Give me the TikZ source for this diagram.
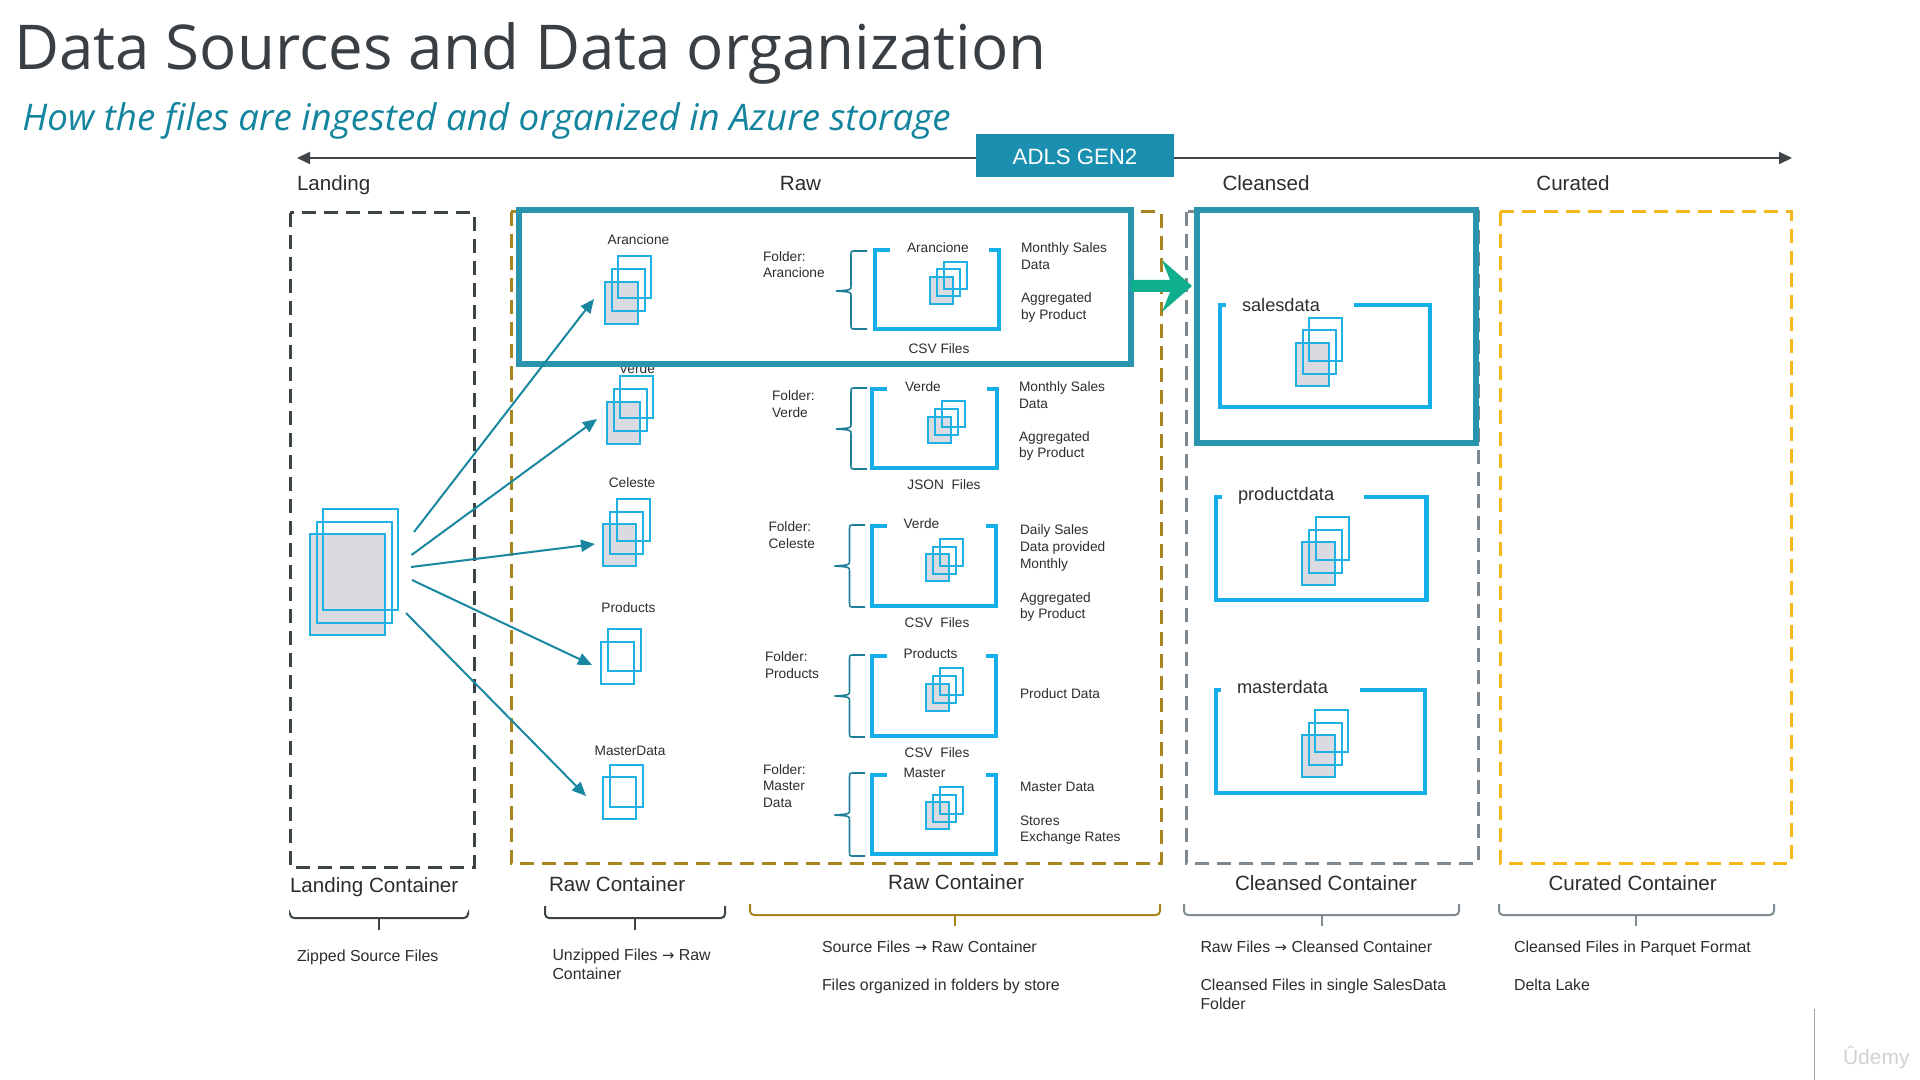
\documentclass[tikz,border=0pt]{standalone}
\usepackage{fontspec}
\setmainfont{Liberation Sans}
\newfontfamily\titlefont{Open Sans}
\newfontfamily\arrfont{DejaVu Sans}
\newcommand{\rarr}{{\arrfont\fontsize{7.4}{9}\selectfont →}}
\usetikzlibrary{arrows.meta}
\definecolor{txt}{HTML}{2B2E31}
\definecolor{titlec}{HTML}{3A3F44}
\definecolor{subc}{HTML}{12849E}
\definecolor{axisc}{HTML}{404548}
\definecolor{adls}{HTML}{1B8FB0}
\definecolor{landc}{HTML}{3C4448}
\definecolor{rawc}{HTML}{A8841E}
\definecolor{clc}{HTML}{7F878F}
\definecolor{curc}{HTML}{F4B81C}
\definecolor{hl}{HTML}{2A93AD}
\definecolor{grn}{HTML}{0FAE8C}
\definecolor{fblue}{HTML}{14AEE8}
\definecolor{sblue}{HTML}{1FB0E6}
\definecolor{sfill}{HTML}{DADBE0}
\definecolor{arrc}{HTML}{1A87A0}
\definecolor{brc}{HTML}{1F7F99}
\definecolor{capg}{HTML}{7F8C92}
\tikzset{
  base/.style={inner sep=0pt,outer sep=0pt,text height=.72em,text depth=0pt,anchor=west,text=txt},
  tiny/.style={base,yshift=1pt,font=\fontsize{6.85}{8}\selectfont},
  smalltxt/.style={base,yshift=.6pt,font=\fontsize{7.95}{9}\selectfont},
  foldertitle/.style={base,yshift=1pt,font=\fontsize{9.1}{11}\selectfont},
  headtxt/.style={base,font=\fontsize{10.3}{12}\selectfont},
  dbox/.style={line width=1.5pt,dash pattern=on 7pt off 4pt},
  hlbox/.style={draw=hl,line width=2.7pt,fill=white},
  flow/.style={draw=arrc,line width=1pt,-{Triangle[length=7pt,width=6pt]}},
  axis/.style={draw=axisc,line width=.9pt,{Triangle[length=6.5pt,width=6pt]}-{Triangle[length=6.5pt,width=6pt]}},
  sline/.style={draw=sblue,line width=1pt},
  fline/.style={draw=fblue,line width=2.2pt},
  fbr/.style={draw=brc,line width=.8pt},
}
\newcommand{\stackicon}[6]{% x y w h dx dy
  \fill[sfill] (#1,#2) rectangle ++(#3,#4);
  \draw[sline] (#1,#2) rectangle ++(#3,#4);
  \draw[sline] ({#1+#5},{#2+#6}) rectangle ++(#3,#4);
  \draw[sline] ({#1+2*#5},{#2+2*#6}) rectangle ++(#3,#4);
}
\newcommand{\folderbox}[6]{% x1 x2 ytop ybot stubL stubR
  \draw[fline,line join=miter] (#5,#3) -- (#1,#3) -- (#1,#4) -- (#2,#4) -- (#2,#3) -- (#6,#3);
}
\newcommand{\foldbrace}[6]{% xend xspine xtip ytop ybot ymid
  \draw[fbr] (#1,#4) -- ({#2+4},#4) .. controls (#2,#4) .. (#2,{#4+5}) -- (#2,{#6-5})
    .. controls (#2,{#6-1}) .. (#3,#6) .. controls (#2,{#6+1}) .. (#2,{#6+5})
    -- (#2,{#5-5}) .. controls (#2,#5) .. ({#2+4},#5) -- (#1,#5);
}
\newcommand{\capbrace}[7]{% colour x1 x2 top bar stemx stemend
  \draw[#1,line width=1pt,rounded corners=2pt] (#2,#4) -- (#2,#5) -- (#3,#5) -- (#3,#4);
  \draw[#1,line width=1pt] (#6,#5) -- (#6,#7);
}
\begin{document}
\begin{tikzpicture}[x=0.5pt,y=-0.5pt]
\useasboundingbox (0,0) rectangle (1920,1080);
\fill[white] (0,0) rectangle (1920,1080);
% title
\node[inner sep=0pt,anchor=base west,text=titlec,font=\titlefont\fontsize{30.9}{36}\selectfont] (title) at (14,69.5) {Data Sources and Data organization};
\node[inner sep=0pt,anchor=base west,text=subc,font=\titlefont\itshape\fontsize{18.35}{22}\selectfont] (subtitle) at (22,130.5) {How the files are ingested and organized in Azure storage};
% axis
\coordinate (axL) at (297,158);
\coordinate (axR) at (1792,158);
\draw[axis] (axL) -- (axR);
\fill[adls] (976,134) rectangle (1174,177);
\node[inner sep=0pt,text=white,font=\fontsize{11.1}{14}\selectfont] (adlslabel) at (1075,157) {ADLS GEN2};
% zone titles
\node[headtxt] (zl) at (297,183) {Landing};
\node[headtxt,anchor=center] (zr) at (800.5,183) {Raw};
\node[headtxt,anchor=center] (zc) at (1266,183) {Cleansed};
\node[headtxt,anchor=center] (zu) at (1573,183) {Curated};
% dashed containers
\draw[dbox,draw=landc] (290,213) rectangle (474,867);
\draw[dbox,draw=rawc] (511,212) rectangle (1161,863);
\draw[dbox,draw=clc] (1186,212) rectangle (1478,863);
\draw[dbox,draw=curc] (1500,212) rectangle (1791,863);
% partly hidden label
\node[tiny,anchor=center] (lverde) at (637,368) {Verde};
% highlight boxes
\draw[hlbox] (519,210) rectangle (1131,364);
\draw[hlbox] (1197,210) rectangle (1476,443);
% green arrow
\fill[grn] (1131,280) -- (1170,280) -- (1162,260) -- (1192,286) -- (1162,312) -- (1170,292) -- (1131,292) -- cycle;
% landing stack
\stackicon{310}{534}{75}{101}{6.5}{-12.5}
% raw stacks
\stackicon{605}{282}{33}{42}{6.5}{-13}
\stackicon{607}{402}{33}{42}{6.5}{-13}
\stackicon{603}{524}{33}{42}{7}{-12.5}
\draw[sline] (601,642) rectangle ++(33,42);
\draw[sline] (608,629) rectangle ++(33,42);
\draw[sline] (603,777) rectangle ++(33,42);
\draw[sline] (610,765) rectangle ++(33,42);
% folder boxes and stacks
\folderbox{875}{999}{250}{329}{890}{989}
\stackicon{930}{277}{23}{27}{7}{-7.5}
\foldbrace{867}{851}{836}{251}{329}{291}
\folderbox{872}{997}{389}{468}{887}{987}
\stackicon{927.5}{417}{23}{26}{7}{-8}
\foldbrace{867}{851}{836}{388}{469}{429}
\folderbox{872}{996}{526}{606}{887}{986}
\stackicon{926}{554}{23}{27}{7}{-7.5}
\foldbrace{865}{849.5}{834.5}{525}{607}{566}
\folderbox{872}{996}{656}{736}{887}{986}
\stackicon{926}{684}{23}{27}{7}{-8}
\foldbrace{865}{849.5}{834.5}{655}{737}{696}
\folderbox{872}{996}{775}{854}{887}{986}
\stackicon{926}{802}{23}{27}{7}{-7.5}
\foldbrace{865}{849.5}{834.5}{773}{856}{815}
% cleansed folders
\folderbox{1220}{1430}{305}{407}{1226}{1354}
\stackicon{1296}{343}{33}{43}{6.5}{-12.5}
\folderbox{1216}{1426.5}{497}{600}{1222}{1364}
\stackicon{1302}{542}{33}{43}{7}{-12.5}
\folderbox{1216}{1425}{690}{793}{1221}{1360}
\stackicon{1302}{735}{33}{42}{6.5}{-12.5}
% flows
\coordinate (a1s) at (414,532); \coordinate (a1e) at (594,299);
\coordinate (a2s) at (411.5,555); \coordinate (a2e) at (597,419);
\coordinate (a3s) at (411,567); \coordinate (a3e) at (595,544);
\coordinate (a4s) at (412,580); \coordinate (a4e) at (592,665);
\coordinate (a5s) at (406,613); \coordinate (a5e) at (586,796);
\draw[flow] (a1s) -- (a1e);
\draw[flow] (a2s) -- (a2e);
\draw[flow] (a3s) -- (a3e);
\draw[flow] (a4s) -- (a4e);
\draw[flow] (a5s) -- (a5e);
% raw labels, first column
\node[tiny,anchor=center] (l1) at (638.5,239) {Arancione};
\node[tiny,anchor=center] (l3) at (632,482) {Celeste};
\node[tiny,anchor=center] (l4) at (628.5,607) {Products};
\node[tiny,anchor=center] (l5) at (630,750) {MasterData};
% folder labels
\node[tiny] (f1a) at (763,256) {Folder:};
\node[tiny] (f1b) at (763,272) {Arancione};
\node[tiny] (f2a) at (772,395) {Folder:};
\node[tiny] (f2b) at (772,412) {Verde};
\node[tiny] (f3a) at (768.5,526) {Folder:};
\node[tiny] (f3b) at (768.5,543) {Celeste};
\node[tiny] (f4a) at (765,656) {Folder:};
\node[tiny] (f4b) at (765,673) {Products};
\node[tiny] (f5a) at (763,769) {Folder:};
\node[tiny] (f5b) at (763,785) {Master};
\node[tiny] (f5c) at (763,802) {Data};
% titles in folder boxes
\node[tiny] (b1) at (907,247) {Arancione};
\node[tiny] (b2) at (905,386) {Verde};
\node[tiny] (b3) at (903.5,523) {Verde};
\node[tiny] (b4) at (903.5,653) {Products};
\node[tiny] (b5) at (903.5,772) {Master};
% file types
\node[tiny,anchor=center] (t1) at (939,348) {CSV Files};
\node[tiny,anchor=center] (t2) at (944,484) {JSON\ \ Files};
\node[tiny,anchor=center] (t3) at (937,622) {CSV\ \ Files};
\node[tiny,anchor=center] (t4) at (937,752) {CSV\ \ Files};
% descriptions
\node[tiny] (d1a) at (1021,247) {Monthly Sales};
\node[tiny] (d1b) at (1021,264) {Data};
\node[tiny] (d1c) at (1021,297) {Aggregated};
\node[tiny] (d1d) at (1021,314) {by Product};
\node[tiny] (d2a) at (1019,386) {Monthly Sales};
\node[tiny] (d2b) at (1019,403) {Data};
\node[tiny] (d2c) at (1019,436) {Aggregated};
\node[tiny] (d2d) at (1019,452) {by Product};
\node[tiny] (d3a) at (1020,529) {Daily Sales};
\node[tiny] (d3b) at (1020,546) {Data provided};
\node[tiny] (d3c) at (1020,563) {Monthly};
\node[tiny] (d3d) at (1020,597) {Aggregated};
\node[tiny] (d3e) at (1020,613) {by Product};
\node[tiny] (d4a) at (1020,693) {Product Data};
\node[tiny] (d5a) at (1020,786) {Master Data};
\node[tiny] (d5b) at (1020,820) {Stores};
\node[tiny] (d5c) at (1020,836) {Exchange Rates};
% cleansed folder titles
\node[foldertitle] (c1) at (1242,306) {salesdata};
\node[foldertitle] (c2) at (1238,495) {productdata};
\node[foldertitle] (c3) at (1237,688) {masterdata};
% container titles
\node[headtxt] (k1) at (290,885) {Landing Container};
\node[headtxt] (k2) at (549,884) {Raw Container};
\node[headtxt] (k3) at (888,882) {Raw Container};
\node[headtxt] (k4) at (1235,883) {Cleansed Container};
\node[headtxt] (k5) at (1548.5,883) {Curated Container};
% bottom braces
\capbrace{landc}{290}{468}{915}{918}{378.5}{930}
\capbrace{landc}{545}{725}{906}{918}{634.5}{930}
\capbrace{rawc}{750}{1160}{904}{915}{955}{926}
\capbrace{capg}{1184}{1459}{904}{915}{1322}{926}
\capbrace{capg}{1499}{1774}{904}{915}{1636}{926}
% bottom notes
\node[smalltxt] (n1) at (297,955) {Zipped Source Files};
\node[smalltxt] (n2a) at (552.5,954) {Unzipped Files \rarr{} Raw};
\node[smalltxt] (n2b) at (552.5,973) {Container};
\node[smalltxt] (n3a) at (822,946) {Source Files \rarr{} Raw Container};
\node[smalltxt] (n3b) at (822,984) {Files organized in folders by store};
\node[smalltxt] (n4a) at (1200.5,946) {Raw Files \rarr{} Cleansed Container};
\node[smalltxt] (n4b) at (1200.5,984) {Cleansed Files in single SalesData};
\node[smalltxt] (n4c) at (1200.5,1003) {Folder};
\node[smalltxt] (n5a) at (1514,946) {Cleansed Files in Parquet Format};
\node[smalltxt] (n5b) at (1514,984) {Delta Lake};
% footer
\draw[draw=black!35,line width=.6pt] (1814.5,1009) -- (1814.5,1080);
\node[base,text=black!18,font=\fontsize{10.5}{12}\selectfont] (udemy) at (1843,1057) {Ûdemy};
\end{tikzpicture}
\end{document}
